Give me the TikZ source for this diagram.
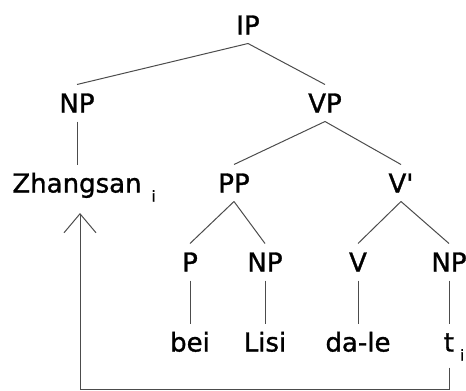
\documentclass[tikz,border=0pt]{standalone}
\usepackage{fontspec}
\setmainfont{DejaVu Sans}
\newfontfamily\treefont[FakeBold=1.2]{DejaVu Sans}
\usepackage{tikz}
\usetikzlibrary{arrows.meta}

% index written low and to the right, not counted in the width of the word
\newcommand{\subi}[1]{\rlap{\hspace{#1}\raisebox{-9pt}{\fontsize{15}{15}\selectfont i}}}

\begin{document}
\begin{tikzpicture}[x=1pt, y=-1pt,
  cat/.style={inner sep=0pt, outer ysep=9pt, text height=19pt, text depth=0pt,
              font=\treefont\fontsize{26}{30}\selectfont},
  branch/.style={draw=black!70, line width=1pt},
  movement/.style={draw=black!70, line width=1pt,
              -{Straight Barb[length=19pt,width=32pt]}}]

 \useasboundingbox (0,0) rectangle (466,391);

 % Top of the tree
 \node [cat] (ip) at (248,25) {IP};
 \node [cat] (np) at (77,103) {NP};
 \node [cat] (vp) at (325,103) {VP};

 % Subject and the two halves of the VP
 \node [cat] (zh) at (77,183) {Zhangsan\subi{10pt}};
 \node [cat] (pp) at (234,183) {PP};
 \node [cat] (vbar) at (401,183) {V\textquotesingle};

 % Heads and complements
 \node [cat] (p) at (190,262) {P};
 \node [cat] (npl) at (265,262) {NP};
 \node [cat] (v) at (358,262) {V};
 \node [cat] (npt) at (449,262) {NP};

 % Words
 \node [cat] (bei) at (190,342) {bei};
 \node [cat] (lisi) at (265,342) {Lisi};
 \node [cat] (dale) at (358,342) {da-le};
 \node [cat] (t) at (449,342) {t\subi{6pt}};

 % Branches
 \draw [branch] (ip.south) -- (np.north);
 \draw [branch] (ip.south) -- (vp.north);
 \draw [branch] (np.south) -- (zh.north);
 \draw [branch] (vp.south) -- (pp.north);
 \draw [branch] (vp.south) -- (vbar.north);
 \draw [branch] (pp.south) -- (p.north);
 \draw [branch] (pp.south) -- (npl.north);
 \draw [branch] (vbar.south) -- (v.north);
 \draw [branch] (vbar.south) -- (npt.north);
 \draw [branch] (p.south) -- (bei.north);
 \draw [branch] (npl.south) -- (lisi.north);
 \draw [branch] (v.south) -- (dale.north);
 \draw [branch] (npt.south) -- (t.north);

 % Movement of the object up to the subject
 \coordinate (low) at (0,389);
 \draw [movement, shorten <=7pt, shorten >=11.5pt]
   (t.south) -- (t.south |- low) -| ([xshift=3pt]zh.south);

\end{tikzpicture}
\end{document}
